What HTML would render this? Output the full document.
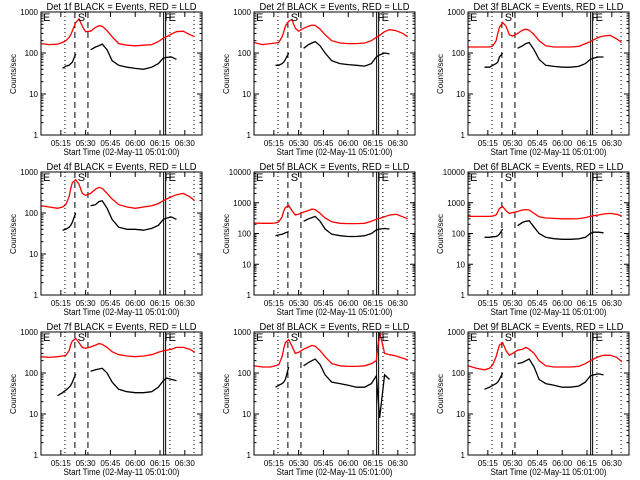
<!DOCTYPE html>
<html><head><meta charset="utf-8"><style>
html,body{margin:0;padding:0;background:#fff;}
svg{display:block;font-family:"Liberation Sans",sans-serif;}
</style></head><body>
<svg id="c" width="640" height="480" viewBox="0 0 640 480"></svg>
<script>
const times = [3,8,13,16,18,20,21,22,24,26,28,30,33,36,38,40,43,46,50,55,60,65,70,74,77,79,82,85,89,93,96];
const N = null;
const detNames = ['1f','2f','3f','4f','5f','6f','7f','8f','9f'];
const yMaxes = [1000,1000,1000,1000,10000,10000,1000,1000,1000];
const xTickTimes = [15,30,45,60,75,90];
const xTickLabels = ['05:15','05:30','05:45','06:00','06:15','06:30'];
const dottedTimes = [17.5,81,95.6];
const dashedTimes = [23.5,31.4];
const solidTimes = [77.2,78.4];
const red1 = [170,160,165,180,200,240,280,350,550,680,450,330,340,420,460,450,350,250,170,155,150,155,160,190,230,250,290,330,340,280,250];
const blk1 = [N,N,N,42,48,50,55,60,95,N,N,N,120,140,150,165,120,65,50,45,42,40,45,55,75,78,80,70,N,N,N];
const red2 = [180,160,170,175,180,250,330,450,600,650,400,340,400,450,480,470,380,280,200,175,170,170,175,200,240,270,330,370,350,300,250];
const blk2 = [N,N,N,50,50,55,60,70,100,N,N,N,130,160,175,190,150,100,65,55,52,50,48,55,80,90,100,95,N,N,N];
const red3 = [140,140,140,140,150,200,300,420,550,450,280,260,300,360,380,360,280,200,150,140,140,140,145,170,190,210,240,260,270,220,180];
const blk3 = [N,N,45,45,50,55,60,80,100,N,N,N,130,150,170,180,120,70,50,47,45,45,47,55,70,75,80,80,N,N,N];
const red4 = [150,140,130,140,160,250,400,550,650,500,300,270,300,380,420,400,300,220,160,140,130,140,150,170,200,220,250,280,300,250,200];
const blk4 = [N,N,N,38,40,45,50,60,100,N,N,N,150,160,190,200,130,70,45,40,40,38,42,50,70,75,80,70,N,N,N];
const red5 = [220,215,215,220,240,350,550,700,820,550,400,420,500,560,620,600,450,320,240,215,210,210,215,250,290,310,350,400,420,350,300];
const blk5 = [N,N,N,85,90,95,100,105,115,N,N,N,250,300,330,360,250,140,95,85,80,80,85,100,130,140,145,140,N,N,N];
const red6 = [360,360,360,360,370,400,500,650,750,550,450,480,520,580,600,580,450,350,320,310,300,300,305,330,360,380,400,430,450,420,370];
const blk6 = [N,N,75,75,78,80,85,95,140,N,N,N,180,230,250,260,160,100,75,68,65,65,67,75,100,110,110,105,N,N,N];
const red7 = [250,240,250,260,270,350,500,600,700,550,420,400,430,480,520,500,420,330,280,260,250,260,280,320,350,360,380,420,420,380,320];
const blk7 = [N,N,28,33,38,45,50,60,95,N,N,N,110,120,125,130,100,60,40,35,33,33,35,45,65,75,70,65,N,N,N];
const red8 = [150,140,140,150,160,250,400,550,650,450,300,320,380,430,470,450,350,250,170,150,145,145,150,170,200,1000,300,280,260,230,210];
const blk8 = [N,N,N,45,50,55,60,70,140,N,N,N,150,180,200,220,160,90,60,55,50,45,45,55,85,8,90,70,N,N,N];
const red9 = [150,130,120,130,160,250,350,480,550,350,270,300,360,380,420,380,300,200,150,140,140,140,145,170,200,220,250,270,270,240,190];
const blk9 = [N,N,40,45,50,55,60,70,100,N,N,N,170,180,200,220,140,70,55,50,45,45,48,60,85,90,95,90,N,N,N];
const redSeries = [red1,red2,red3,red4,red5,red6,red7,red8,red9];
const blackSeries = [blk1,blk2,blk3,blk4,blk5,blk6,blk7,blk8,blk9];

const svg = document.getElementById('c');
const NS = 'http://www.w3.org/2000/svg';
function mk(tag, attrs, parent){const e=document.createElementNS(NS,tag);for(const k in attrs)e.setAttribute(k,attrs[k]);(parent||svg).appendChild(e);return e;}
mk('rect',{x:0,y:0,width:640,height:480,fill:'#fff'});

for(let p=0;p<9;p++){
  const ox = Math.round((p%3)*213.33), oy = Math.floor(p/3)*160;
  const L=ox+41, R=ox+202, T=oy+12, B=oy+135;
  const ymax = yMaxes[p], dec = Math.log10(ymax);
  const xs = t => L + (t-3)*(R-L)/97.4;
  const ys = v => B - Math.log10(v)/dec*(B-T);
  const g = mk('g',{});
  
  
  const title = mk('text',{x:(L+R)/2,y:oy+10,'font-size':10,'text-anchor':'middle',textLength:150,lengthAdjust:'spacingAndGlyphs',fill:'#000'},g);
  title.textContent='Det '+detNames[p]+' BLACK = Events, RED = LLD';
  
  
  // vertical markers
  dottedTimes.forEach(t=>{const l=mk('line',{x1:xs(t),x2:xs(t),y1:T,y2:B,stroke:'#000','stroke-width':1,'stroke-dasharray':'1,3'},g);});
  dashedTimes.forEach(t=>{const l=mk('line',{x1:xs(t),x2:xs(t),y1:T,y2:B,stroke:'#000','stroke-width':1,'stroke-dasharray':'6,4'},g);});
  solidTimes.forEach(t=>{const l=mk('line',{x1:xs(t),x2:xs(t),y1:T,y2:B,stroke:'#000','stroke-width':1},g);});
  // series
  function drawSeries(vals,color,name){
    let d='',pen=false;
    for(let i=0;i<times.length;i++){
      const v=vals[i];
      if(v===null){pen=false;continue;}
      d+=(pen?'L':'M')+xs(times[i]).toFixed(1)+' '+ys(v).toFixed(1)+' ';pen=true;
    }
    const path=mk('path',{d:d,fill:'none',stroke:color,'stroke-width':1.3},g);
    
    
  }
  drawSeries(redSeries[p],'#ff0000','lld-red-line');
  drawSeries(blackSeries[p],'#000','events-black-line');
  // box
  const box=mk('rect',{x:L,y:T,width:R-L,height:B-T,fill:'none',stroke:'#000','stroke-width':1},g);
  
  
  // y ticks
  for(let k=0;k<=dec;k++){
    const v=Math.pow(10,k), y=ys(v);
    mk('line',{x1:L,x2:L+5,y1:y,y2:y,stroke:'#000'},g);
    mk('line',{x1:R,x2:R-5,y1:y,y2:y,stroke:'#000'},g);
    const tl=mk('text',{x:L-3,y:y+3,'font-size':8,'text-anchor':'end',fill:'#000'},g);
    tl.textContent=String(v);
    
    
    if(k<dec){for(let m=2;m<=9;m++){const ym=ys(m*v);mk('line',{x1:L,x2:L+2.5,y1:ym,y2:ym,stroke:'#000'},g);mk('line',{x1:R,x2:R-2.5,y1:ym,y2:ym,stroke:'#000'},g);}}
  }
  // x ticks
  xTickTimes.forEach((t,i)=>{
    const x=xs(t);
    mk('line',{x1:x,x2:x,y1:B,y2:B-5,stroke:'#000'},g);
    mk('line',{x1:x,x2:x,y1:T,y2:T+5,stroke:'#000'},g);
    const tl=mk('text',{x:x,y:B+11,'font-size':8,'text-anchor':'middle',fill:'#000'},g);
    tl.textContent=xTickLabels[i];
    
    
  });
  const xt=mk('text',{x:(L+R)/2,y:oy+155,'font-size':9,'text-anchor':'middle',textLength:116,lengthAdjust:'spacingAndGlyphs',fill:'#000'},g);
  xt.textContent='Start Time (02-May-11 05:01:00)';
  
  
  const yt=mk('text',{x:0,y:0,'font-size':8,'text-anchor':'middle',fill:'#000',transform:'translate('+(ox+16)+','+(oy+74)+') rotate(-90)'},g);
  yt.textContent='Counts/sec';
  
  
  [['E',L+2],['S',xs(25.2)],['F',xs(77.2)+1],['E',xs(80.2)]].forEach(a=>{
    const m=mk('text',{x:a[1],y:T+9,'font-size':11,fill:'#000'},g);
    m.textContent=a[0];
    
    
  });
}
</script>
</body></html>
